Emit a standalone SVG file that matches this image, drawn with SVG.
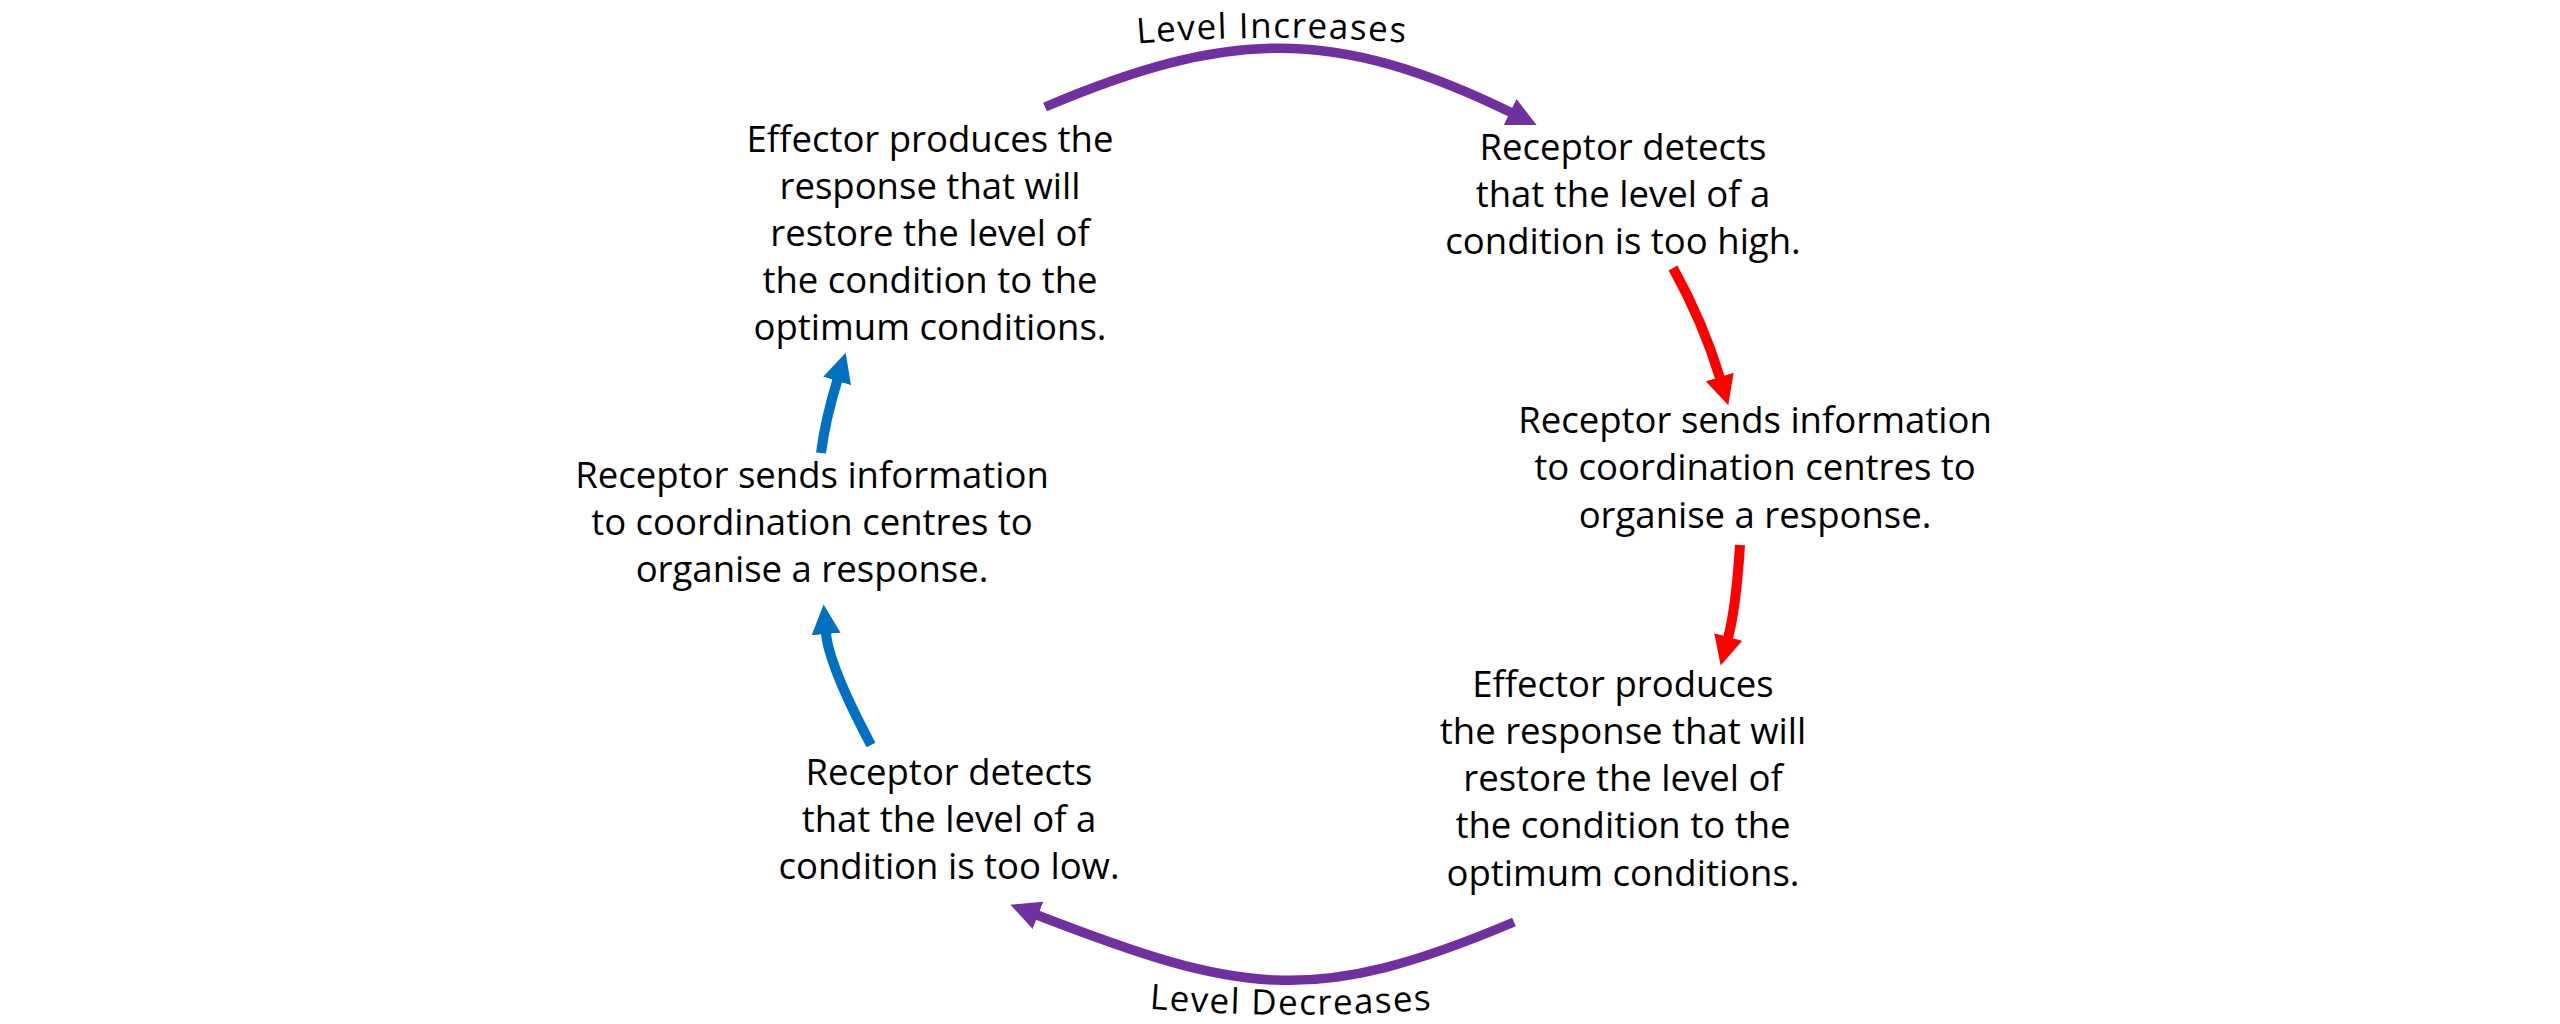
<svg xmlns="http://www.w3.org/2000/svg" width="2560" height="1024" viewBox="0 0 2560 1024">
<defs>
<style>
.t{font-family:"Open Sans","Liberation Sans",sans-serif;font-size:36.5px;fill:#000;text-anchor:middle}
.lbl{font-family:"Open Sans","Liberation Sans",sans-serif;font-size:35px;letter-spacing:1.5px;fill:#000;text-anchor:middle}
.c{fill:none;stroke-linecap:butt}
.p{stroke:#7030A0;stroke-width:9.5}
.r{stroke:#FF0000;stroke-width:10}
.b{stroke:#0070C0;stroke-width:10}
</style>
<marker id="ap" markerUnits="userSpaceOnUse" viewBox="0 0 30 30" markerWidth="30" markerHeight="30" refX="1" refY="15" orient="auto"><path d="M0,0.5 L29.5,15 L0,29.5 Z" fill="#7030A0"/></marker>
<marker id="ar" markerUnits="userSpaceOnUse" viewBox="0 0 30 30" markerWidth="30" markerHeight="30" refX="1" refY="15" orient="auto"><path d="M0,0.5 L29.5,15 L0,29.5 Z" fill="#FF0000"/></marker>
<marker id="ab" markerUnits="userSpaceOnUse" viewBox="0 0 30 30" markerWidth="30" markerHeight="30" refX="1" refY="15" orient="auto"><path d="M0,0.5 L29.5,15 L0,29.5 Z" fill="#0070C0"/></marker>
<path id="lpTop" d="M1100,47 Q1272,29 1444,46"/>
<path id="lpBot" d="M1110,1005 Q1291,1024 1472,1006"/>
</defs>
<rect width="2560" height="1024" fill="#fff"/>
<g id="connectors">
<path class="c p" d="M1045,107 C1227,30 1333,25.5 1511,112.5" marker-end="url(#ap)"/>
<path class="c r" d="M1673,268 Q1703,322 1720,378" marker-end="url(#ar)"/>
<path class="c r" d="M1740,545 Q1736,608 1728,638" marker-end="url(#ar)"/>
<path class="c p" d="M1514,922 C1312.5,1007.4 1240.7,993.8 1037,915" marker-end="url(#ap)"/>
<path class="c b" d="M871,745 Q828.7,665 826,633" marker-end="url(#ab)"/>
<path class="c b" d="M821,453 Q825,421 837.4,380" marker-end="url(#ab)"/>
<text class="lbl"><textPath href="#lpTop" startOffset="50%">Level Increases</textPath></text>
<text class="lbl"><textPath href="#lpBot" startOffset="50%">Level Decreases</textPath></text>
</g>
<g id="node-effector-top">
<text class="t" x="930" y="152">Effector produces the</text>
<text class="t" x="930" y="199">response that will</text>
<text class="t" x="930" y="246">restore the level of</text>
<text class="t" x="930" y="293">the condition to the</text>
<text class="t" x="930" y="340">optimum conditions.</text>
</g>
<g id="node-receptor-high">
<text class="t" x="1623" y="160">Receptor detects</text>
<text class="t" x="1623" y="207">that the level of a</text>
<text class="t" x="1623" y="254">condition is too high.</text>
</g>
<g id="node-sends-right">
<text class="t" x="1755" y="433">Receptor sends information</text>
<text class="t" x="1755" y="480">to coordination centres to</text>
<text class="t" x="1755" y="528">organise a response.</text>
</g>
<g id="node-effector-bottom">
<text class="t" x="1623" y="697">Effector produces</text>
<text class="t" x="1623" y="744">the response that will</text>
<text class="t" x="1623" y="791">restore the level of</text>
<text class="t" x="1623" y="838">the condition to the</text>
<text class="t" x="1623" y="886">optimum conditions.</text>
</g>
<g id="node-sends-left">
<text class="t" x="812" y="488">Receptor sends information</text>
<text class="t" x="812" y="535">to coordination centres to</text>
<text class="t" x="812" y="582">organise a response.</text>
</g>
<g id="node-receptor-low">
<text class="t" x="949" y="785">Receptor detects</text>
<text class="t" x="949" y="832">that the level of a</text>
<text class="t" x="949" y="879">condition is too low.</text>
</g>
</svg>
